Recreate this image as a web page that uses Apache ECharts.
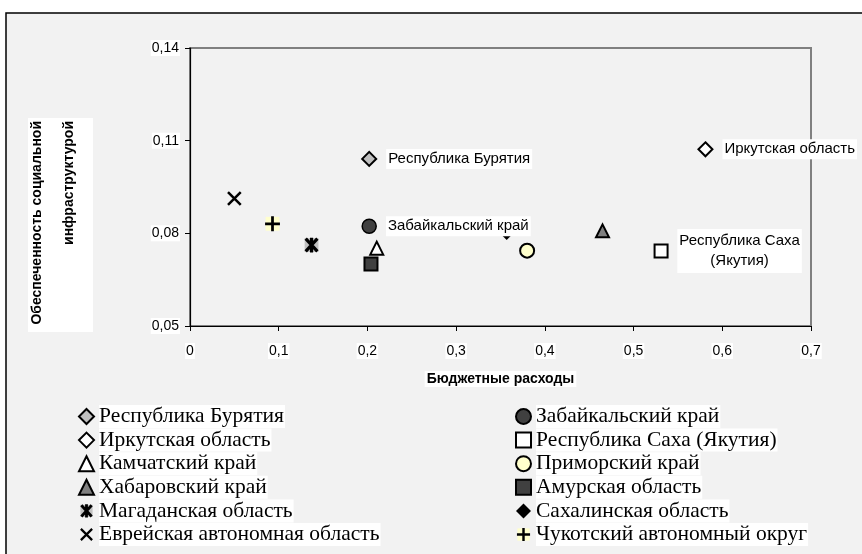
<!DOCTYPE html>
<html>
<head>
<meta charset="utf-8">
<script src="https://cdn.jsdelivr.net/npm/echarts@6/dist/echarts.min.js"></script>
<style>
html,body{margin:0;padding:0;background:#fff;}
#c{width:862px;height:554px;}
</style>
</head>
<body>
<div id="c"></div>
<script>
// ---- data ----
const regionNames = [
  'Республика Бурятия','Иркутская область','Камчатский край','Хабаровский край',
  'Магаданская область','Еврейская автономная область',
  'Забайкальский край','Республика Саха (Якутия)','Приморский край','Амурская область',
  'Сахалинская область','Чукотский автономный округ'
];
const budgetSpend = [0.202, 0.581, 0.2105, 0.465, 0.137, 0.05, 0.202, 0.531, 0.38, 0.204, 0.357, 0.093];
const infraSupply = [0.1041, 0.1072, 0.0752, 0.0808, 0.0762, 0.0913, 0.0823, 0.0743, 0.0744, 0.0701, 0.0798, 0.0831];
const labelledRegions = ['Республика Бурятия','Иркутская область','Забайкальский край','Республика Саха (Якутия)'];
const legendLeft = regionNames.slice(0, 6);
const legendRight = regionNames.slice(6);
const xTicks = [0, 0.1, 0.2, 0.3, 0.4, 0.5, 0.6, 0.7];
const yTicks = [0.05, 0.08, 0.11, 0.14];
const xTitle = 'Бюджетные расходы';
const yTitleLines = ['Обеспеченность социальной', 'инфраструктурой'];

// ---- symbols ----
function svgSym(inner) {
  const s = "<svg xmlns='http://www.w3.org/2000/svg' width='16' height='16' viewBox='0 0 16 16'>" + inner + "</svg>";
  return 'image://data:image/svg+xml;charset=utf-8,' + encodeURIComponent(s);
}
const symMagadan = svgSym("<rect x='1.5' y='1.5' width='13' height='13' fill='#c0c0c0'/><path d='M8 1V15M2.5 2L13.5 14M13.5 2L2.5 14' stroke='#000' stroke-width='3' fill='none'/>");
const symJewish = svgSym("<path d='M2 2L14 14M14 2L2 14' stroke='#000' stroke-width='2.4' fill='none'/>");
const symChukotka = svgSym("<rect x='1.5' y='1.5' width='13' height='13' fill='#ffffcc'/><path d='M8 1V15M1 8H15' stroke='#000' stroke-width='2.6' fill='none'/>");

const styles = {
  'Республика Бурятия': {symbol:'diamond', size:14, fill:'#c0c0c0', bw:2},
  'Иркутская область': {symbol:'diamond', size:14, fill:'#ffffff', bw:2},
  'Камчатский край': {symbol:'triangle', size:13, fill:'#ffffff', bw:2},
  'Хабаровский край': {symbol:'triangle', size:13, fill:'#808080', bw:2},
  'Магаданская область': {symbol:symMagadan, size:17, fill:'#000', bw:0},
  'Еврейская автономная область': {symbol:symJewish, size:17, fill:'#000', bw:0},
  'Забайкальский край': {symbol:'circle', size:14, fill:'#404040', bw:1.5},
  'Республика Саха (Якутия)': {symbol:'rect', size:13, fill:'#ffffff', bw:2},
  'Приморский край': {symbol:'circle', size:14, fill:'#ffffcc', bw:2},
  'Амурская область': {symbol:'rect', size:13, fill:'#404040', bw:2},
  'Сахалинская область': {symbol:'diamond', size:12, fill:'#000000', bw:0},
  'Чукотский автономный округ': {symbol:symChukotka, size:17, fill:'#000', bw:0}
};

const fmtNum = (v, d) => String(Math.round(v * Math.pow(10, d)) / Math.pow(10, d)).replace('.', ',');

const series = regionNames.map((name, i) => {
  const st = styles[name];
  const labelled = labelledRegions.indexOf(name) >= 0;
  const twoLine = name === 'Республика Саха (Якутия)';
  return {
    name: name,
    type: 'scatter',
    z: name === 'Сахалинская область' ? 1 : 2,
    symbol: st.symbol,
    symbolSize: st.size,
    itemStyle: {color: st.fill, borderColor: '#000', borderWidth: st.bw, opacity: 1},
    label: {
      show: labelled,
      position: 'right',
      distance: 9,
      offset: twoLine ? [62, 0] : [0, 0],
      formatter: () => name.replace(' (', '\n('),
      fontFamily: 'Liberation Sans, Arial, sans-serif',
      fontSize: 15,
      lineHeight: twoLine ? 20 : 16,
      align: twoLine ? 'center' : 'left',
      color: '#000',
      backgroundColor: '#fff',
      padding: [2, 2]
    },
    emphasis: {disabled: true},
    data: [[budgetSpend[i], infraSupply[i]]]
  };
});

const legendText = {
  fontFamily: 'Liberation Serif, Times New Roman, serif',
  fontSize: 21.5, color: '#000', backgroundColor: '#fff', lineHeight: 23, padding: [0, 1, 0, 0]
};

const chart = echarts.init(document.getElementById('c'), null, {renderer: 'canvas'});
chart.setOption({
  backgroundColor: '#fff',
  animation: false,
  graphic: [
    {type: 'rect', z: -100, silent: true, shape: {x: 6, y: 13, width: 880, height: 560},
     style: {fill: '#f2f2f2', stroke: '#000', lineWidth: 1.5}},
    {type: 'rect', z: -50, silent: true, shape: {x: 28, y: 118, width: 65, height: 214}, style: {fill: '#fff'}},
    {type: 'text', z: -40, x: 37, y: 121, rotation: Math.PI / 2,
     style: {text: yTitleLines[0], align: 'right', verticalAlign: 'middle', fill: '#000',
             font: 'bold 14px "Liberation Sans", Arial, sans-serif'}},
    {type: 'text', z: -40, x: 69, y: 121, rotation: Math.PI / 2,
     style: {text: yTitleLines[1], align: 'right', verticalAlign: 'middle', fill: '#000',
             font: 'bold 14px "Liberation Sans", Arial, sans-serif'}}
  ],
  grid: {left: 190, right: 51, top: 48, bottom: 228, show: true,
         backgroundColor: '#f2f2f2', borderColor: '#808080', borderWidth: 2},
  xAxis: {
    type: 'value', min: 0, max: 0.7, interval: 0.1,
    name: xTitle, nameLocation: 'middle', nameGap: 45,
    nameTextStyle: {fontFamily: 'Liberation Sans, Arial', fontWeight: 'bold', fontSize: 14, color: '#000', backgroundColor: '#fff', padding: [1, 2]},
    axisLine: {lineStyle: {color: '#000', width: 1.2}},
    axisTick: {show: true, length: 5, lineStyle: {color: '#000'}, customValues: xTicks},
    axisLabel: {customValues: xTicks, margin: 17, formatter: v => fmtNum(v, 1),
                fontFamily: 'Liberation Sans, Arial', fontSize: 14, color: '#000', backgroundColor: '#fff', padding: [1, 1]},
    splitLine: {show: false}
  },
  yAxis: {
    type: 'value', min: 0.05, max: 0.14,
    axisLine: {show: true, lineStyle: {color: '#000', width: 1.2}},
    axisTick: {show: true, length: 5, lineStyle: {color: '#000'}, customValues: yTicks},
    axisLabel: {customValues: yTicks, margin: 10, formatter: v => fmtNum(v, 2),
                fontFamily: 'Liberation Sans, Arial', fontSize: 14, color: '#000', backgroundColor: '#fff', padding: [1, 1]},
    splitLine: {show: false}
  },
  legend: [
    {orient: 'vertical', left: 73, top: 400, itemWidth: 15, itemHeight: 15, itemGap: 0.6,
     selectedMode: false, data: legendLeft, textStyle: legendText},
    {orient: 'vertical', left: 510, top: 400, itemWidth: 15, itemHeight: 15, itemGap: 0.6,
     selectedMode: false, data: legendRight, textStyle: legendText}
  ],
  series: series
});
</script>
</body>
</html>
